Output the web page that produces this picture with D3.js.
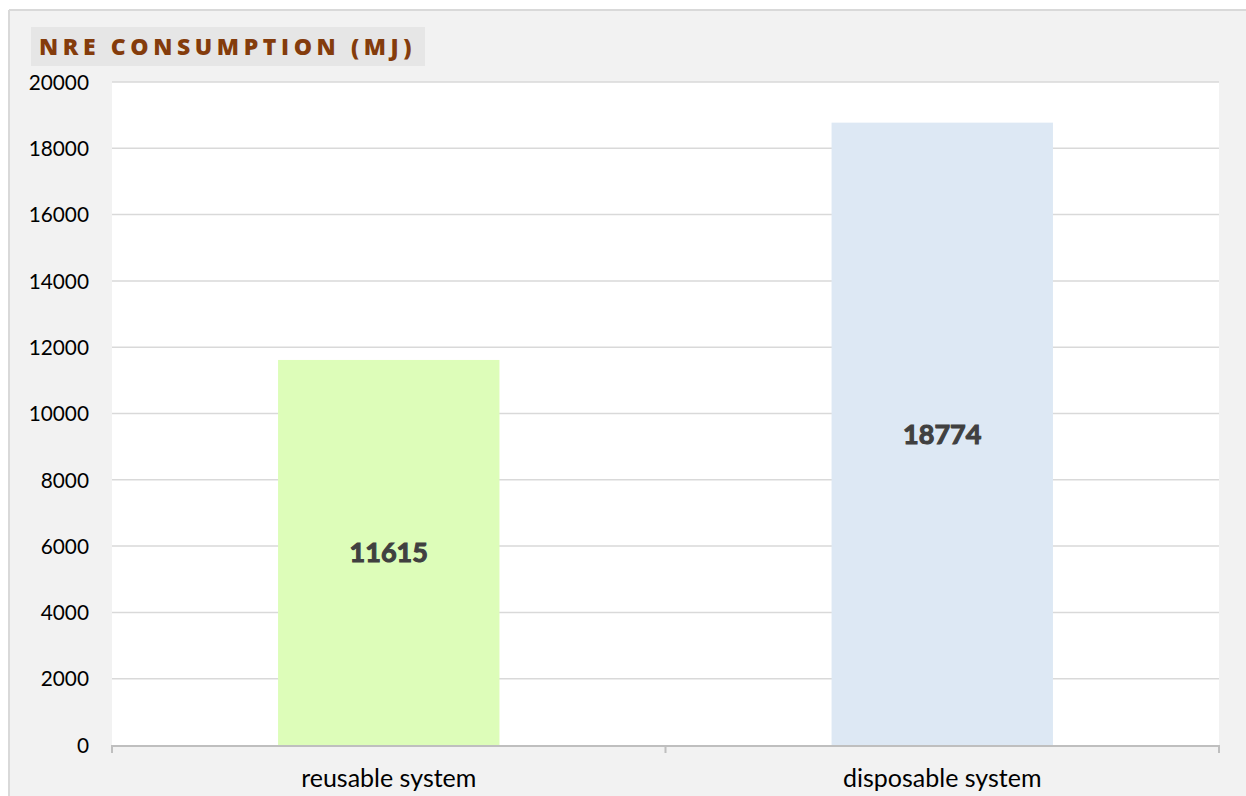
<!DOCTYPE html>
<html>
<head>
<meta charset="utf-8">
<script src="https://cdn.jsdelivr.net/npm/d3@7"></script>
<style>
  html, body { margin: 0; padding: 0; background: #ffffff; }
  svg { display: block; }
</style>
</head>
<body>
<svg id="chart" width="1246" height="796"></svg>
<script>
const categories = ["reusable system", "disposable system"];
const values = [11615, 18774];
const barColors = ["#ddfdb9", "#dde8f4"];
const yTicks = [0, 2000, 4000, 6000, 8000, 10000, 12000, 14000, 16000, 18000, 20000];
const title = "NRE CONSUMPTION (MJ)";

const svg = d3.select("#chart");
const W = 1246, H = 796;

// outer chart frame
svg.append("rect").attr("x", 9).attr("y", 10).attr("width", W - 9).attr("height", H - 10)
  .attr("fill", "#f2f2f2");
svg.append("line").attr("x1", 9).attr("x2", W).attr("y1", 10).attr("y2", 10)
  .attr("stroke", "#d9d9d9").attr("stroke-width", 2);
svg.append("line").attr("x1", 9).attr("x2", 9).attr("y1", 10).attr("y2", H)
  .attr("stroke", "#d9d9d9").attr("stroke-width", 2);

const plot = { left: 112, right: 1219, top: 82, bottom: 745 };

// plot area background
svg.append("rect").attr("x", plot.left).attr("y", plot.top)
  .attr("width", plot.right - plot.left).attr("height", plot.bottom - plot.top)
  .attr("fill", "#ffffff");

const x = d3.scaleBand().domain(categories).range([plot.left, plot.right])
  .paddingInner(0.6).paddingOuter(0.3);
const xOuter = d3.scaleBand().domain(categories).range([plot.left, plot.right]);
const y = d3.scaleLinear().domain([0, 20000]).range([plot.bottom, plot.top]);

// gridlines
svg.append("g").selectAll("line").data(yTicks.filter(d => d > 0)).join("line")
  .attr("x1", plot.left).attr("x2", plot.right)
  .attr("y1", d => y(d)).attr("y2", d => y(d))
  .attr("stroke", "#d9d9d9").attr("stroke-width", 1.5);

// y axis labels
const yAxis = d3.axisLeft(y).tickValues(yTicks).tickSize(0).tickPadding(0).tickFormat(d3.format("d"));
const gy = svg.append("g").attr("transform", `translate(${plot.left - 23},0)`).call(yAxis);
gy.select(".domain").remove();
gy.selectAll("text").attr("font-family", "Lato, 'Open Sans', sans-serif")
  .attr("font-size", 20.8).attr("fill", "#000000").attr("dy", "0.35em");

// bars
svg.append("g").selectAll("rect").data(values).join("rect")
  .attr("x", (d, i) => x(categories[i]))
  .attr("width", x.bandwidth())
  .attr("y", d => y(d))
  .attr("height", d => y(0) - y(d))
  .attr("fill", (d, i) => barColors[i]);

// value labels
svg.append("g").selectAll("text").data(values).join("text")
  .attr("x", (d, i) => x(categories[i]) + x.bandwidth() / 2)
  .attr("y", d => (y(d) + y(0)) / 2)
  .attr("dy", "0.36em")
  .attr("text-anchor", "middle")
  .attr("font-family", "Lato, 'Open Sans', sans-serif")
  .attr("font-weight", 700)
  .attr("font-size", 27)
  .attr("fill", "#404040")
  .attr("stroke", "#404040")
  .attr("stroke-width", 1.1)
  .text(d => d);

// x axis
const xAxis = d3.axisBottom(xOuter).tickSize(0).tickPadding(0);
const gx = svg.append("g").attr("transform", `translate(0,${plot.bottom + 1})`).call(xAxis);
gx.select(".domain").remove();
gx.selectAll(".tick line").remove();
gx.selectAll("text").attr("font-family", "Lato, 'Open Sans', sans-serif")
  .attr("font-size", 25).attr("fill", "#000000").attr("dy", "1.62em");
svg.append("line").attr("x1", plot.left).attr("x2", plot.right)
  .attr("y1", plot.bottom + 1).attr("y2", plot.bottom + 1)
  .attr("stroke", "#bfbfbf").attr("stroke-width", 2);
const tickXs = [plot.left, ...categories.slice(1).map(c => xOuter(c)), plot.right];
svg.append("g").selectAll("line").data(tickXs).join("line")
  .attr("x1", d => d).attr("x2", d => d)
  .attr("y1", plot.bottom).attr("y2", plot.bottom + 8)
  .attr("stroke", "#bfbfbf").attr("stroke-width", 2);

// title box
svg.append("rect").attr("x", 31).attr("y", 27).attr("width", 394).attr("height", 39)
  .attr("fill", "#e6e6e6");
svg.append("text").attr("x", 39).attr("y", 47).attr("dy", "0.36em")
  .attr("font-family", "'Open Sans', Lato, sans-serif")
  .attr("font-weight", 800)
  .attr("font-size", 23)
  .attr("letter-spacing", 4.6)
  .attr("fill", "#843c0c")
  .text(title);
</script>
</body>
</html>
